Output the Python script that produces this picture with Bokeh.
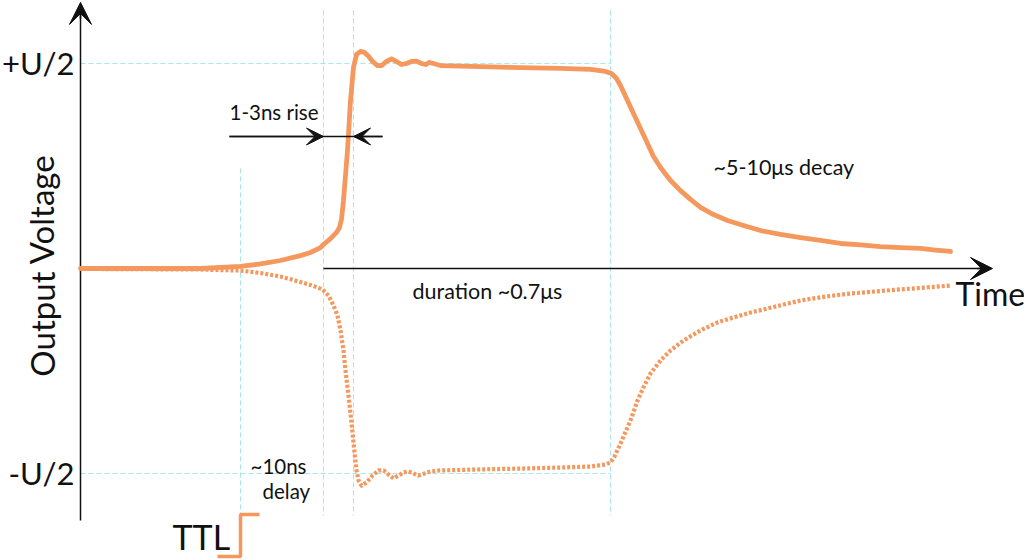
from bokeh.plotting import figure
from bokeh.models import Range1d, Arrow, VeeHead
from bokeh.core.properties import value
from bokeh.embed import file_html
from bokeh.resources import INLINE

# ---- data (time in arbitrary units, voltage in units of U/2) ----
pos_t = [0, 8, 12, 16, 18, 20, 22, 23, 24, 24.3, 25, 25.6, 25.9, 26.1, 26.3, 26.5, 26.7, 27.0,
         27.3, 27.6, 28.0, 28.4, 28.8, 29.2, 29.7, 30.1, 30.6, 31.1, 31.6, 32.1, 32.6, 33.1,
         33.6, 34.1, 34.5, 34.9, 35.3, 36, 40, 44, 48, 51, 52.5, 53.1, 53.6, 54, 54.6, 55.3,
         56, 56.7, 57.3, 58, 59, 60, 61, 62, 63.3, 64.7, 66.3, 68, 70, 72, 74, 76, 78, 80,
         82, 84, 85.5, 87]
pos_v = [0, 0, 0, 0.010, 0.022, 0.039, 0.063, 0.078, 0.102, 0.117, 0.146, 0.176, 0.200, 0.240,
         0.333, 0.454, 0.576, 0.820, 0.981, 1.044, 1.059, 1.054, 1.035, 1.010, 0.990, 0.990,
         1.010, 1.022, 1.010, 0.995, 1.000, 1.010, 1.012, 1.000, 0.995, 1.005, 1.000, 0.990,
         0.985, 0.980, 0.976, 0.971, 0.961, 0.951, 0.927, 0.893, 0.829, 0.756, 0.683, 0.610,
         0.546, 0.493, 0.429, 0.380, 0.337, 0.298, 0.263, 0.234, 0.210, 0.185, 0.166, 0.151,
         0.137, 0.122, 0.115, 0.107, 0.102, 0.098, 0.090, 0.083]

neg_t = [0, 12, 16, 18, 20, 22, 23, 24.2, 24.8, 25.3, 25.7, 26, 26.3, 26.5, 26.8, 27, 27.2,
         27.4, 27.6, 27.8, 28.1, 28.6, 29.2, 29.8, 30.3, 30.8, 31.3, 31.8, 32.3, 32.8, 33.3,
         33.8, 34.4, 35, 36, 40, 44, 48, 51, 52.5, 53, 53.4, 54, 55, 55.7, 56.3, 57, 58, 59,
         60.3, 62, 63.7, 65.3, 67, 68.7, 70.3, 72, 74.5, 77, 79.5, 82, 84.5, 87]
neg_v = [-0.002, -0.005, -0.010, -0.022, -0.039, -0.066, -0.080, -0.102, -0.132, -0.180,
         -0.229, -0.302, -0.400, -0.498, -0.620, -0.707, -0.800, -0.898, -0.985, -1.034,
         -1.059, -1.044, -1.010, -0.985, -0.985, -1.005, -1.024, -1.010, -0.995, -0.990,
         -1.000, -1.010, -1.000, -0.990, -0.985, -0.980, -0.976, -0.971, -0.966, -0.956,
         -0.946, -0.917, -0.854, -0.741, -0.644, -0.580, -0.512, -0.449, -0.400, -0.351,
         -0.302, -0.263, -0.239, -0.215, -0.195, -0.176, -0.156, -0.137, -0.122, -0.112,
         -0.102, -0.093, -0.083]

# event times
t_trigger, t_rise0, t_rise1, t_fall = 16.0, 24.3, 27.3, 53.0
guide_t = [t_trigger, t_rise0, t_rise1, t_fall]
guide_top = [0.488, 1.259, 1.259, 1.259]
guide_bottom = -1.205
level_v = [1.0, -1.0]
level_labels = ["+U/2", "-U/2"]

ttl_t = [13.7, 16.0, 16.0, 17.9]
ttl_v = [-1.405, -1.405, -1.200, -1.200]

rise_v = 0.644
rise_left, rise_right = 14.9, 30.2
axis_bottom, axis_top = -1.229, 1.298
xaxis_end = 91.2

ORANGE = "#F5985E"
CYAN = "#A6E6EF"
INK = "#111111"
FONT = value("Lato")

p = figure(width=1024, height=560, x_range=Range1d(-8.0, 94.4), y_range=Range1d(-1.4244, 1.3073),
           output_backend="svg", toolbar_location=None, min_border=0,
           x_axis_location=None, y_axis_location=None)
p.grid.visible = False
p.outline_line_color = None

# guide lines
p.segment(x0=guide_t, y0=guide_top, x1=guide_t, y1=[guide_bottom] * 4,
          line_color=CYAN, line_width=1, line_dash="5 3")
p.segment(x0=[0, 0], y0=level_v, x1=[t_fall, t_fall], y1=level_v,
          line_color=CYAN, line_width=1, line_dash="5 3")

# axes
p.segment(x0=[0], y0=[axis_bottom], x1=[0], y1=[axis_top - 0.05], line_color=INK, line_width=1.5)
p.add_layout(Arrow(x_start=0, y_start=axis_top - 0.08, x_end=0, y_end=axis_top,
                   line_color=INK, line_width=1.5,
                   end=VeeHead(size=22, fill_color=INK, line_color=INK, line_width=1)))
p.segment(x0=[t_rise0], y0=[0], x1=[xaxis_end - 0.5], y1=[0], line_color=INK, line_width=1.5)
p.add_layout(Arrow(x_start=xaxis_end - 1.5, y_start=0, x_end=xaxis_end, y_end=0,
                   line_color=INK, line_width=1.5,
                   end=VeeHead(size=22, fill_color=INK, line_color=INK, line_width=1)))

# curves
p.line(neg_t, neg_v, line_color=ORANGE, line_width=4.2, line_dash="3 2", line_join="round")
p.line(pos_t, pos_v, line_color=ORANGE, line_width=4.8, line_join="round", line_cap="round")

# rise arrows
p.segment(x0=[rise_left], y0=[rise_v], x1=[rise_right], y1=[rise_v], line_color=INK, line_width=1.3)
p.add_layout(Arrow(x_start=rise_left, y_start=rise_v, x_end=t_rise0, y_end=rise_v,
                   line_color=INK, line_width=1.3,
                   end=VeeHead(size=17, fill_color=INK, line_color=INK, line_width=1)))
p.add_layout(Arrow(x_start=rise_right, y_start=rise_v, x_end=t_rise1, y_end=rise_v,
                   line_color=INK, line_width=1.3,
                   end=VeeHead(size=17, fill_color=INK, line_color=INK, line_width=1)))

# TTL step
p.line(ttl_t, ttl_v, line_color=ORANGE, line_width=3.5)

# texts (anchored at their vertical middle)
p.text(x=[-0.6, -0.6], y=level_v, text=level_labels, text_font=FONT, text_font_size=value("31px"),
       text_align="right", text_baseline="middle", text_color=INK)
p.text(x=[-3.9], y=[0.015], text=["Output Voltage"], angle=1.5708, text_font=FONT,
       text_font_size=value("33px"), text_align="center", text_baseline="middle", text_color=INK)
p.text(x=[14.9], y=[0.761], text=["1-3ns rise"], text_font=FONT,
       text_font_size=value("20.5px"), text_align="left", text_baseline="middle", text_color=INK)
p.text(x=[63.3, 33.2], y=[0.493, -0.112], text=["~5-10μs decay", "duration ~0.7μs"], text_font=FONT,
       text_font_size=value("21.5px"), text_align="left", text_baseline="middle", text_color=INK)
p.text(x=[17.0, 18.2], y=[-0.961, -1.085], text=["~10ns", "delay"], text_font=FONT,
       text_font_size=value("20.5px"), text_align="left", text_baseline="middle", text_color=INK)
p.text(x=[9.2], y=[-1.305], text=["TTL"], text_font=FONT, text_font_size=value("34px"),
       text_align="left", text_baseline="middle", text_color=INK)
p.text(x=[87.5], y=[-0.124], text=["Time"], text_font=FONT, text_font_size=value("32px"),
       text_align="left", text_baseline="middle", text_color=INK)

open("out.html", "w").write(file_html(p, INLINE))
